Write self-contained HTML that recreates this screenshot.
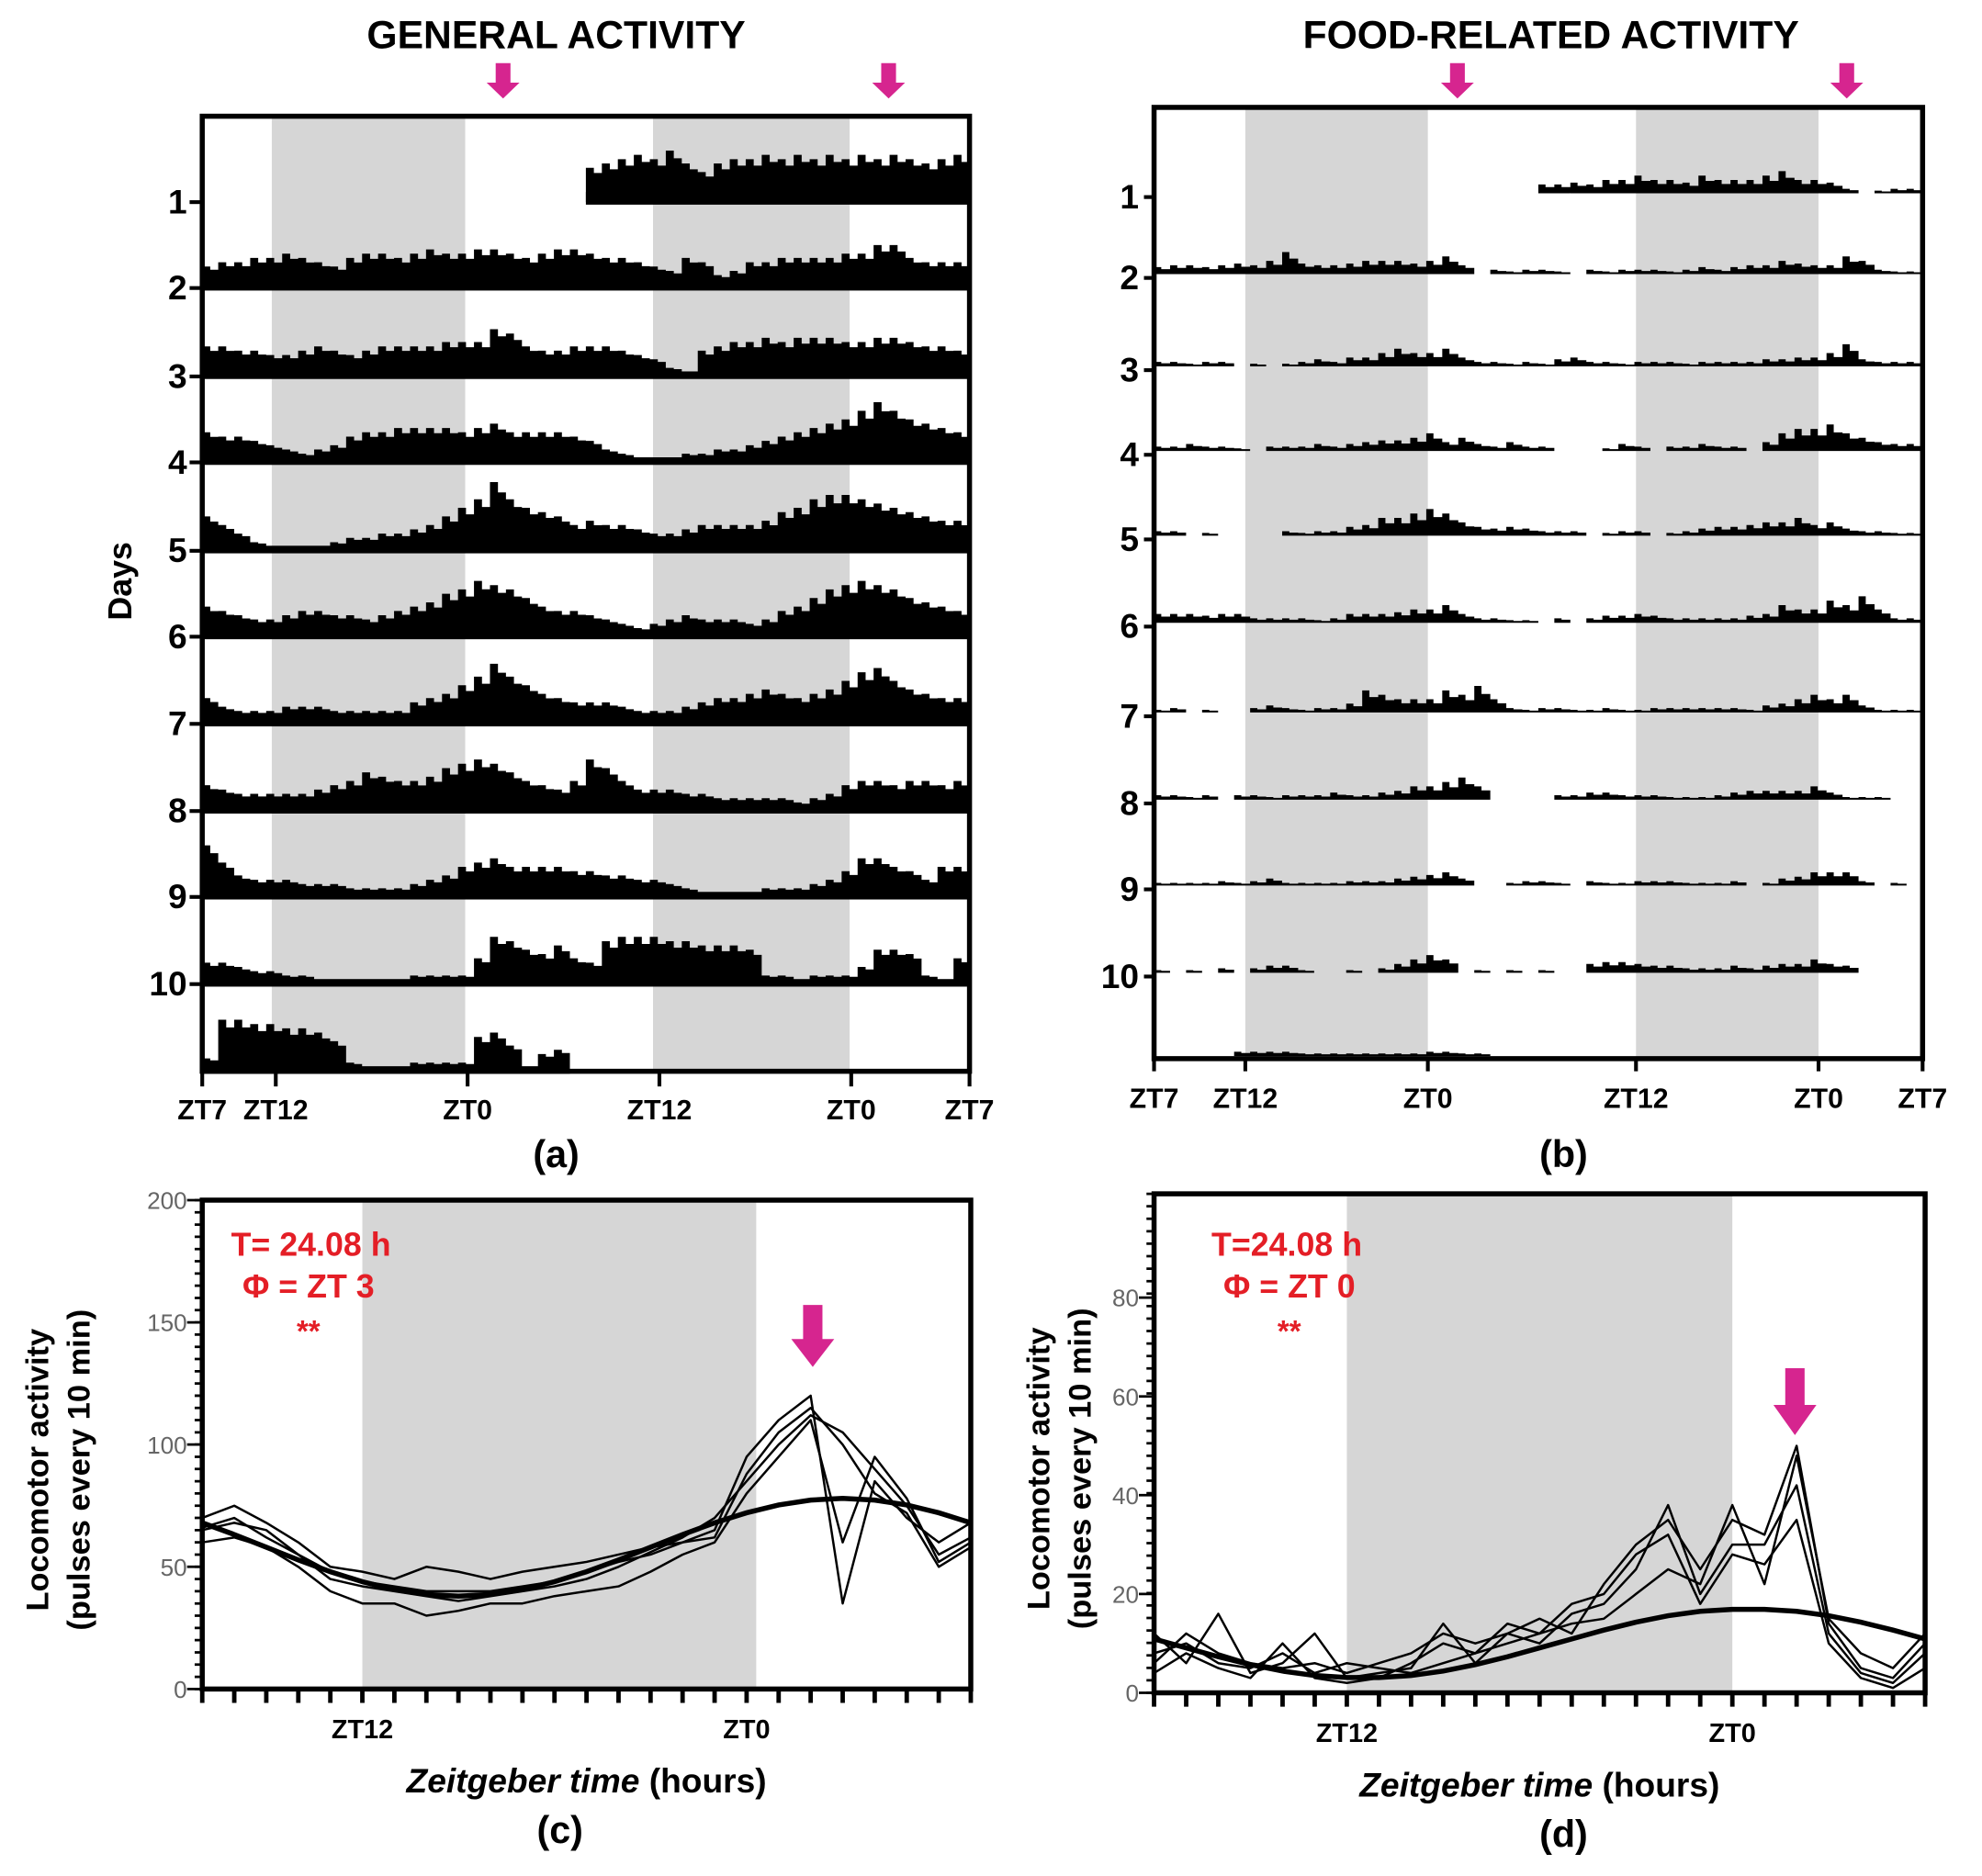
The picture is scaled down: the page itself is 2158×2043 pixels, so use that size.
<!DOCTYPE html>
<html><head><meta charset="utf-8"><style>
html,body{margin:0;padding:0;background:#fff;}
svg{display:block;}
text{font-family:"Liberation Sans",sans-serif;}
</style></head><body>
<svg id="fig" width="2158" height="2043" viewBox="0 0 1568 1485" preserveAspectRatio="none" xmlns="http://www.w3.org/2000/svg">
<rect width="1568" height="1485" fill="#fff"/>
<g id="pa"></g>
<g id="pb"></g>
<g id="pc"></g>
<g id="pd"></g>
</svg>
<script>
// ---- Panel (a) actogram data: 48 hourly values per row from ZT7 (fraction of row height), null = no data
const actoA_row1=[null,null,null,null,null,null,null,null,null,null,null,null,null,null,null,null,null,null,null,null,null,null,null,null,.4,.45,.5,.55,.5,.6,.45,.35,.45,.5,.5,.55,.5,.55,.5,.55,.5,.55,.5,.55,.5,.45,.5,.55];
const actoA_row2=[.25,.3,.3,.35,.35,.4,.35,.3,.25,.35,.4,.4,.35,.4,.45,.4,.4,.45,.45,.4,.35,.4,.45,.45,.4,.35,.35,.3,.25,.2,.35,.3,.15,.2,.3,.3,.35,.35,.35,.35,.4,.4,.5,.5,.35,.3,.3,.3];
const actoA_row3=[.35,.35,.3,.3,.25,.25,.3,.35,.3,.25,.3,.35,.35,.35,.35,.4,.4,.4,.55,.5,.35,.3,.3,.35,.35,.35,.3,.25,.2,.1,.05,.3,.35,.4,.4,.45,.4,.45,.45,.45,.4,.4,.45,.45,.4,.35,.35,.3];
const actoA_row4=[.35,.3,.3,.25,.2,.15,.1,.15,.2,.3,.35,.35,.4,.4,.4,.4,.35,.4,.45,.35,.35,.35,.35,.3,.25,.15,.1,.05,.05,.05,.1,.1,.15,.15,.2,.25,.3,.35,.4,.45,.5,.6,.7,.6,.5,.45,.4,.35];
const actoA_row5=[.4,.3,.2,.1,.05,.03,.05,.05,.1,.15,.15,.2,.2,.25,.3,.4,.5,.6,.8,.6,.5,.45,.4,.3,.35,.3,.3,.25,.2,.2,.25,.3,.3,.3,.3,.35,.45,.5,.6,.65,.65,.6,.55,.5,.45,.4,.35,.35];
const actoA_row6=[.35,.3,.25,.2,.2,.25,.3,.3,.25,.25,.2,.25,.3,.35,.4,.5,.55,.65,.6,.55,.45,.35,.3,.3,.25,.2,.15,.1,.15,.2,.25,.2,.2,.2,.15,.2,.3,.35,.45,.55,.6,.65,.6,.55,.45,.4,.35,.3];
const actoA_row7=[.3,.2,.15,.15,.15,.2,.2,.2,.15,.15,.15,.15,.15,.25,.3,.35,.45,.55,.7,.55,.45,.35,.3,.25,.25,.25,.2,.15,.15,.15,.2,.25,.3,.3,.35,.4,.35,.3,.35,.4,.5,.6,.65,.5,.4,.35,.3,.3];
const actoA_row8=[.3,.25,.2,.2,.2,.2,.2,.25,.3,.35,.45,.4,.35,.35,.4,.5,.55,.6,.55,.45,.35,.3,.25,.35,.6,.5,.35,.25,.25,.25,.2,.2,.15,.15,.15,.15,.15,.1,.15,.2,.3,.35,.35,.3,.35,.35,.3,.35];
const actoA_row9=[.6,.4,.25,.2,.2,.2,.15,.15,.15,.1,.1,.1,.1,.15,.2,.25,.35,.4,.45,.35,.35,.35,.35,.3,.3,.25,.25,.2,.2,.15,.1,.05,.05,.05,.05,.1,.1,.1,.15,.2,.3,.45,.45,.35,.3,.2,.35,.35];
const actoA_row10=[.25,.25,.2,.15,.15,.1,.1,.05,.05,.05,.05,.05,.05,.1,.1,.1,.1,.3,.55,.5,.4,.35,.45,.3,.25,.5,.55,.55,.55,.5,.5,.45,.45,.45,.4,.1,.1,.05,.1,.1,.1,.2,.4,.4,.35,.1,.05,.3];
const actoA_row11=[.15,.6,.6,.55,.55,.5,.5,.45,.35,.1,.05,.05,.05,.1,.1,.1,.1,.4,.45,.3,.05,.2,.25,null,null,null,null,null,null,null,null,null,null,null,null,null,null,null,null,null,null,null,null,null,null,null,null,null];
const actoA=[actoA_row1,actoA_row2,actoA_row3,actoA_row4,actoA_row5,actoA_row6,actoA_row7,actoA_row8,actoA_row9,actoA_row10,actoA_row11];
const dayLabels=["1","2","3","4","5","6","7","8","9","10"];
const ztLabels=["ZT7","ZT12","ZT0","ZT12","ZT0","ZT7"];
const ztHoursA=[0,4.6,16.6,28.6,40.6,48];
const bandsA=[[4.35,16.45],[28.2,40.5]];
const ztHoursB=[0,5.7,17.1,30.1,41.5,48];
const bandsB=[[5.7,17.1],[30.1,41.5]];

// ---- Panel (b) food actogram: -1 = gap
const actoB_row1=[-1,-1,-1,-1,-1,-1,-1,-1,-1,-1,-1,-1,-1,-1,-1,-1,-1,-1,-1,-1,-1,-1,-1,-1,.1,.1,.12,.1,.15,.15,.2,.15,.15,.12,.2,.15,.15,.15,.2,.25,.15,.15,.12,.05,-1,.03,.05,.05];
const actoB_row2=[.08,.1,.1,.08,.1,.12,.1,.15,.25,.12,.1,.1,.12,.15,.15,.15,.12,.15,.2,.1,-1,.05,.03,.05,.05,.03,-1,.05,.03,.05,.05,.05,.03,.05,.08,.05,.08,.1,.1,.15,.12,.1,.1,.2,.15,.05,.03,.03];
const actoB_row3=[.05,.05,.03,.05,.05,-1,.03,-1,.03,.05,.08,.05,.1,.1,.15,.2,.15,.15,.2,.1,.05,.05,.03,.05,.03,.08,.1,.05,.05,.03,.05,.05,.05,.03,.05,.05,.05,.05,.08,.08,.1,.1,.15,.25,.08,.05,.05,.05];
const actoB_row4=[.05,.05,.08,.05,.05,.03,-1,.05,.05,.05,.08,.05,.08,.1,.12,.12,.15,.2,.1,.15,.08,.05,.1,.05,.05,-1,-1,-1,.03,.08,.05,-1,.05,.05,.08,.05,.05,-1,.1,.2,.25,.25,.3,.2,.15,.1,.08,.08];
const actoB_row5=[.05,.05,-1,.03,-1,-1,-1,-1,.05,.03,.05,.05,.1,.12,.2,.2,.25,.3,.25,.15,.1,.08,.1,.08,.05,.05,.05,-1,.03,.05,.05,-1,.03,.05,.08,.1,.1,.12,.15,.15,.2,.12,.15,.08,.05,.05,.03,.03];
const actoB_row6=[.1,.1,.1,.08,.1,.1,.05,.05,.05,.05,.03,.05,.1,.1,.1,.12,.15,.15,.2,.1,.05,.05,.03,.03,-1,.05,-1,.05,.08,.08,.1,.08,.05,.05,.05,.05,.05,.08,.1,.2,.15,.15,.25,.2,.3,.15,.05,.05];
const actoB_row7=[.03,.05,-1,.03,-1,-1,.05,.08,.05,.03,.05,.05,.1,.25,.2,.15,.15,.15,.25,.2,.3,.15,.05,.03,.05,.05,.03,.03,.05,.03,.03,.05,.05,.05,.05,.05,.05,.03,.08,.1,.15,.2,.15,.2,.08,.03,.03,.03];
const actoB_row8=[.05,.05,.03,.05,-1,.05,.05,.03,.05,.05,.05,.08,.05,.05,.08,.1,.15,.15,.2,.25,.15,-1,-1,-1,-1,.05,.05,.08,.08,.05,.05,.05,.03,.03,.03,.05,.08,.1,.1,.1,.1,.15,.08,.03,.03,.03,-1,-1];
const actoB_row9=[.03,.03,.03,.03,.05,.03,.05,.08,.03,.03,.03,.03,.05,.05,.05,.08,.1,.12,.15,.08,-1,-1,.03,.05,.05,.03,-1,.05,.03,.03,.05,.05,.05,.03,.03,.03,.05,-1,.03,.08,.1,.15,.15,.15,.05,-1,.03,-1];
const actoB_row10=[.03,-1,.03,-1,.05,-1,.05,.08,.08,.03,-1,-1,.03,-1,.05,.1,.15,.2,.15,-1,.03,-1,.03,-1,.03,-1,-1,.1,.12,.12,.1,.08,.08,.05,.05,.05,.08,.05,.08,.1,.1,.15,.1,.08,-1,-1,-1,-1];
const actoB_row11=[-1,-1,-1,-1,-1,.05,.05,.05,.05,.03,.03,.03,.03,.03,.03,.03,.03,.05,.05,.03,.03,-1,-1,-1,-1,-1,-1,-1,-1,-1,-1,-1,-1,-1,-1,-1,-1,-1,-1,-1,-1,-1,-1,-1,-1,-1,-1,-1];
const actoB=[actoB_row1,actoB_row2,actoB_row3,actoB_row4,actoB_row5,actoB_row6,actoB_row7,actoB_row8,actoB_row9,actoB_row10,actoB_row11];

// ---- Panel (c) waveform (hours 7..31, ZT0 = 24)
const hoursC=[7,8,9,10,11,12,13,14,15,16,17,18,19,20,21,22,23,24,25,26,27,28,29,30,31];
const cS1=[66,70,62,55,45,42,40,38,36,38,40,42,45,50,56,62,70,85,100,112,105,90,75,55,62];
const cS2=[70,75,68,60,50,48,45,50,48,45,48,50,52,55,58,60,65,95,110,120,35,85,70,60,68];
const cS3=[60,62,58,50,40,35,35,30,32,35,35,38,40,42,48,55,60,80,95,110,60,95,78,52,60];
const cS4=[65,68,65,55,48,44,42,40,40,40,42,44,48,52,55,60,62,88,105,115,100,80,72,50,58];
const cFit=[68,63.2,58,52.8,48,43.9,40.7,38.7,38,38.7,40.7,43.9,48,52.8,58,63.2,68,72.1,75.3,77.3,78,77.3,75.3,72.1,68];
const cTicks=[0,50,100,150,200];

// ---- Panel (d) waveform (hours 6..30)
const hoursD=[6,7,8,9,10,11,12,13,14,15,16,17,18,19,20,21,22,23,24,25,26,27,28,29,30];
const dS1=[8,10,6,5,8,4,6,5,4,6,8,10,12,14,15,20,25,22,38,22,48,15,8,5,12];
const dS2=[12,6,16,4,6,12,3,4,5,14,6,12,10,16,18,25,38,20,30,30,42,12,4,2,8];
const dS3=[4,8,5,3,10,3,2,3,6,10,8,14,12,18,20,28,32,18,28,26,35,10,3,1,5];
const dS4=[6,12,8,6,5,6,4,6,8,12,10,12,15,12,22,30,35,25,35,32,50,14,5,3,10];
const dFit=[10.9,9.1,7.3,5.7,4.4,3.5,3.1,3.1,3.5,4.4,5.7,7.3,9.1,10.9,12.7,14.3,15.6,16.5,16.9,16.9,16.5,15.6,14.3,12.7,10.9];
const dTicks=[0,20,40,60,80];

const NS="http://www.w3.org/2000/svg";
function mk(parent,tag,attrs,txt){const e=document.createElementNS(NS,tag);for(const k in attrs)e.setAttribute(k,attrs[k]);if(txt!==undefined)e.textContent=txt;parent.appendChild(e);return e;}
function arrow(parent,cx,y0,y1,w){
  const hw=w/2, hh=(y1-y0)*0.45;
  const p=mk(parent,'polygon',{points:`${cx-hw*0.45},${y0} ${cx+hw*0.45},${y0} ${cx+hw*0.45},${y1-hh} ${cx+hw},${y1-hh} ${cx},${y1} ${cx-hw},${y1-hh} ${cx-hw*0.45},${y1-hh}`,fill:'#d6258f'});
  
  
}

// ===== Panel A =====
(function(){
  const g=document.getElementById('pa');
  const x0=160,x1=767,yTop=92,yBot=848;
  const xs=h=>x0+(x1-x0)*h/48;
  const base=[160,228,298,366,436,504,573,642,710,779,848];
  const rh=68;
  bandsA.forEach(b=>{const r=mk(g,'rect',{x:xs(b[0]),y:yTop,width:xs(b[1])-xs(b[0]),height:yBot-yTop,fill:'#d6d6d6'});
    
    });
  actoA.forEach((row,i)=>{
    const yb=base[i];
    let d='';
    row.forEach((v,h)=>{if(v===null)return;const hgt=v*rh;
      const w=(x1-x0)/48;
      d+=`M${xs(h)},${yb}v${-hgt}h${w*0.5}v${hgt*0.15}h${w*0.5}v${hgt*0.85}z`;});
    const p=mk(g,'path',{d:d,fill:'#000'});
    
    
    let s=null,e=null;row.forEach((v,h)=>{if(v!==null){if(s===null)s=h;e=h+1;}});
    if(s!==null){const l=mk(g,'rect',{x:xs(s),y:yb-(i===0?8:4),width:xs(e)-xs(s),height:i===0?10:6,fill:'#000'});
      
      }
  });
  const fr=mk(g,'rect',{x:x0,y:yTop,width:x1-x0,height:yBot-yTop,fill:'none',stroke:'#000','stroke-width':4});
  
  
  dayLabels.forEach((t,i)=>{const y=base[i];
    const tk=mk(g,'line',{x1:x0-10,x2:x0,y1:y,y2:y,stroke:'#000','stroke-width':3});
    
    
    const tx=mk(g,'text',{x:x0-12,y:y+9,'text-anchor':'end','font-size':27,'font-weight':'bold'},t);
    
    });
  ztLabels.forEach((t,i)=>{const x=xs(ztHoursA[i]);
    const tk=mk(g,'line',{x1:x,x2:x,y1:yBot,y2:yBot+12,stroke:'#000','stroke-width':3});
    
    
    const tx=mk(g,'text',{x:x,y:886,'text-anchor':'middle','font-size':22,'font-weight':'bold'},t);
    
    });
  const tt=mk(g,'text',{x:440,y:38,'text-anchor':'middle','font-size':31,'font-weight':'bold'},'GENERAL ACTIVITY');
  
  
  const dl=mk(g,'text',{x:0,y:0,'text-anchor':'middle','font-size':26,'font-weight':'bold',transform:'translate(104,460) rotate(-90)'},'Days');
  
  
  const lb=mk(g,'text',{x:440,y:924,'text-anchor':'middle','font-size':30,'font-weight':'bold','font-family':'Liberation Serif, serif'},'(a)');
  
  
  arrow(g,398,50,78,26);arrow(g,703,50,78,26);
})();

// ===== Panel B =====
(function(){
  const g=document.getElementById('pb');
  const x0=913,x1=1521,yTop=85,yBot=838;
  const xs=h=>x0+(x1-x0)*h/48;
  const base=[152,216,289,356,423,492,563,632,700,769,835];
  const rh=70;
  bandsB.forEach(b=>{const r=mk(g,'rect',{x:xs(b[0]),y:yTop,width:xs(b[1])-xs(b[0]),height:yBot-yTop,fill:'#d6d6d6'});
    
    });
  actoB.forEach((row,i)=>{
    const yb=base[i];let d='';const w=(x1-x0)/48;
    row.forEach((v,h)=>{if(v<0)return;const hgt=Math.max(2,v*rh);
      d+=`M${xs(h)},${yb+1}v${-hgt}h${w*0.45}v${hgt*0.3}h${w*0.55}v${hgt*0.7}z`;});
    const p=mk(g,'path',{d:d,fill:'#000'});
    
    
  });
  const fr=mk(g,'rect',{x:x0,y:yTop,width:x1-x0,height:yBot-yTop,fill:'none',stroke:'#000','stroke-width':4});
  
  
  dayLabels.forEach((t,i)=>{const y=base[i]+4;
    const tk=mk(g,'line',{x1:x0-8,x2:x0,y1:y,y2:y,stroke:'#000','stroke-width':3});
    
    
    const tx=mk(g,'text',{x:x0-12,y:y+9,'text-anchor':'end','font-size':27,'font-weight':'bold'},t);
    
    });
  ztLabels.forEach((t,i)=>{const x=xs(ztHoursB[i]);
    const tk=mk(g,'line',{x1:x,x2:x,y1:yBot,y2:yBot+10,stroke:'#000','stroke-width':3});
    
    
    const tx=mk(g,'text',{x:x,y:877,'text-anchor':'middle','font-size':22,'font-weight':'bold'},t);
    
    });
  const tt=mk(g,'text',{x:1227,y:38,'text-anchor':'middle','font-size':31,'font-weight':'bold'},'FOOD-RELATED ACTIVITY');
  
  
  const lb=mk(g,'text',{x:1237,y:924,'text-anchor':'middle','font-size':30,'font-weight':'bold','font-family':'Liberation Serif, serif'},'(b)');
  
  
  arrow(g,1153,50,78,26);arrow(g,1461,50,78,26);
})();

// ===== Waveform panels =====
function wave(gid,cfg){
  const g=document.getElementById(gid);
  const {x0,x1,yTop,yBot,hMin,hMax,vMax,ticks,series,fit,hours,band,arrowX,arrowY,texts,letter,letterX,ylabX}=cfg;
  const xs=h=>x0+(x1-x0)*(h-hMin)/(hMax-hMin);
  const ys=v=>yBot-(yBot-yTop)*v/vMax;
  const r=mk(g,'rect',{x:xs(band[0]),y:yTop,width:xs(band[1])-xs(band[0]),height:yBot-yTop,fill:'#d6d6d6'});
  
  
  series.forEach((s,k)=>{
    const pts=s.map((v,i)=>xs(hours[i])+','+ys(v)).join(' ');
    const pl=mk(g,'polyline',{points:pts,fill:'none',stroke:'#000','stroke-width':1.8,'stroke-linejoin':'round'});
    
    
  });
  const fp=mk(g,'polyline',{points:fit.map((v,i)=>xs(hours[i])+','+ys(v)).join(' '),fill:'none',stroke:'#000','stroke-width':4});
  
  
  const fr=mk(g,'rect',{x:x0,y:yTop,width:x1-x0,height:yBot-yTop,fill:'none',stroke:'#000','stroke-width':4});
  
  
  let dm='';for(let y=yBot;y>=yTop;y-=(yBot-yTop)/40)dm+=`M${x0-6},${y}H${x0}`;
  const my=mk(g,'path',{d:dm,stroke:'#000','stroke-width':2});
  
  
  ticks.forEach(t=>{const y=ys(t);
    const tk=mk(g,'line',{x1:x0-12,x2:x0,y1:y,y2:y,stroke:'#000','stroke-width':2});
    
    
    const tx=mk(g,'text',{x:x0-12,y:y+7,'text-anchor':'end','font-size':19,fill:'#666'},String(t));
    
    });
  let dx='';for(let h=Math.ceil(hMin);h<=hMax;h++)dx+=`M${xs(h)},${yBot}v11`;
  const mx=mk(g,'path',{d:dx,stroke:'#000','stroke-width':3.5});
  
  
  [['ZT12',12],['ZT0',24]].forEach(z=>{const tx=mk(g,'text',{x:xs(z[1]),y:yBot+39,'text-anchor':'middle','font-size':21,'font-weight':'bold'},z[0]);
    
    });
  const xt=mk(g,'text',{x:(x0+x1)/2,y:yBot+82,'text-anchor':'middle','font-size':27,'font-weight':'bold'});
  
  
  mk(xt,'tspan',{'font-style':'italic'},'Zeitgeber time');mk(xt,'tspan',{},' (hours)');
  const yl=mk(g,'text',{x:0,y:0,'text-anchor':'middle','font-size':25,'font-weight':'bold',transform:`translate(${ylabX},${(yTop+yBot)/2+20}) rotate(-90)`});
  
  
  mk(yl,'tspan',{x:0,dy:0},'Locomotor activity');mk(yl,'tspan',{x:0,dy:33},'(pulses every 10 min)');
  texts.forEach(t=>{const tx=mk(g,'text',{x:t[1],y:t[2],'text-anchor':'middle','font-size':t[3],'font-weight':'bold',fill:'#e41e26'},t[0]);
    
    });
  arrow(g,arrowX,arrowY[0],arrowY[1],34);
  const lb=mk(g,'text',{x:letterX,y:yBot+122,'text-anchor':'middle','font-size':30,'font-weight':'bold','font-family':'Liberation Serif, serif'},letter);
  
  
}
wave('pc',{x0:160,x1:768,yTop:950,yBot:1337,hMin:7,hMax:31,vMax:200,ticks:cTicks,series:[cS1,cS2,cS3,cS4],fit:cFit,hours:hoursC,band:[12,24.3],arrowX:643,arrowY:[1033,1082],
  texts:[['T= 24.08 h',246,994,26],['Φ = ZT 3',244,1027,26],['**',244,1062,24]],letter:'(c)',letterX:443,ylabX:38});
wave('pd',{x0:913,x1:1523,yTop:945,yBot:1340,hMin:6,hMax:30,vMax:101,ticks:dTicks,series:[dS1,dS2,dS3,dS4],fit:dFit,hours:hoursD,band:[12,24],arrowX:1420,arrowY:[1083,1136],
  texts:[['T=24.08 h',1018,994,26],['Φ = ZT 0',1020,1027,26],['**',1020,1062,24]],letter:'(d)',letterX:1237,ylabX:830});
</script>
</body></html>
